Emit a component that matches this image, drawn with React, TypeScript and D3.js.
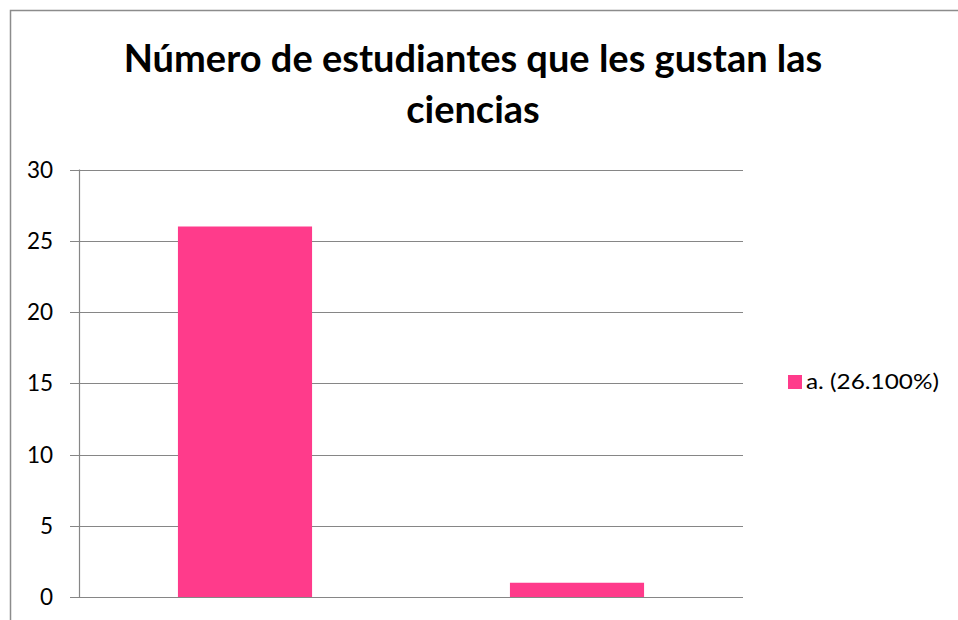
import React from "react";
import * as d3 from "d3";

const categories = ["a.", "b."];
const values = [26, 1];
const yTicks = [0, 5, 10, 15, 20, 25, 30];
const legendLabel = "a. (26.100%)";
const titleLines = ["Número de estudiantes que les gustan las", "ciencias"];

export default function App() {
  const W = 958, H = 620;
  const left = 79, right = 743, top = 169.5, bottom = 597;
  const x = d3.scaleBand<string>().domain(categories).range([left, right]).paddingInner(0.596).paddingOuter(0.298);
  const y = d3.scaleLinear().domain([0, 30]).range([bottom, top]);
  const font = "Lato, 'Open Sans', sans-serif";
  const grid = "#868686";
  const color = "#FF3B8B";
  return (
    <svg width={W} height={H} style={{ position: "absolute", left: 0, top: 0, background: "#fff" }}>
      <rect x={10.5} y={10.5} width={W + 20} height={H + 20} fill="#fff" stroke="#8c8c8c" strokeWidth={1.5} />
      {titleLines.map((t, i) => (
        <text key={i} x={473} y={72 + i * 51} textAnchor="middle" fontFamily={font} fontWeight="bold" fontSize={38} fill="#000">
          {t}
        </text>
      ))}
      {yTicks.map((t) => (
        <g key={t}>
          <line x1={70} x2={right} y1={Math.round(y(t)) + 0.5} y2={Math.round(y(t)) + 0.5} stroke={grid} strokeWidth={1.2} />
          <text x={53} y={y(t) + 8} textAnchor="end" fontFamily={font} fontSize={22.5} fill="#000">
            {t}
          </text>
        </g>
      ))}
      <line x1={left + 0.5} x2={left + 0.5} y1={top} y2={bottom} stroke={grid} strokeWidth={1.2} />
      {categories.map((c, i) => (
        <rect key={c} x={x(c)!} y={y(values[i])} width={x.bandwidth()} height={bottom - y(values[i])} fill={color} />
      ))}
      <rect x={788} y={375} width={14} height={14} fill={color} />
      <text x={806} y={389} fontFamily={font} fontSize={22} textLength={133} lengthAdjust="spacingAndGlyphs" fill="#000">
        {legendLabel}
      </text>
    </svg>
  );
}
